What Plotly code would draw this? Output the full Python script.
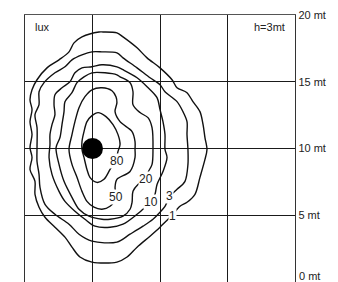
import plotly.graph_objects as go

# isolines (lux), coordinates in metres
levels = ["1", "3", "10", "20", "50", "80"]

x_1 = [5.78, 6.81, 7.26, 8.30, 9.04, 10.0, 10.89, 11.26, 12.0, 12.44, 12.96, 13.19, 13.33, 13.48, 13.33, 12.96,
       12.59, 12.0, 11.48, 10.89, 10.37, 10.0, 9.26, 8.30, 7.56, 6.81, 4.96, 4.07, 3.48, 2.96, 2.22, 1.48, 1.04,
       0.74, 0.74, 0.37, 0.52, 0.37, 0.52, 0.37, 0.52, 0.37, 0.52, 0.89, 1.63, 2.52, 3.26, 3.63, 4.22, 5.48]
y_1 = [18.73, 18.66, 18.36, 17.54, 16.79, 16.04, 15.15, 14.55, 14.18, 13.51, 12.76, 11.79, 10.82, 9.93, 9.18, 7.84,
       6.57, 5.97, 5.67, 5.0, 4.48, 4.10, 3.43, 2.61, 1.87, 1.49, 1.49, 1.87, 2.61, 3.36, 4.10, 4.85, 5.60,
       6.57, 7.54, 8.43, 9.33, 10.07, 11.04, 12.01, 12.91, 13.66, 14.40, 15.15, 16.04, 16.64, 17.24, 17.91, 18.36, 18.73]

x_3 = [4.96, 5.70, 6.81, 7.26, 8.30, 9.26, 10.0, 10.37, 11.26, 11.70, 12.0, 12.0, 12.07, 12.07, 11.85, 11.26, 10.74,
       10.37, 10.0, 9.48, 8.74, 7.78, 6.81, 4.96, 4.0, 3.26, 2.22, 1.48, 1.11, 1.04, 0.89, 0.89, 0.89, 0.74, 1.04,
       1.04, 1.41, 2.22, 2.96, 3.48, 4.22]
y_3 = [17.24, 17.24, 17.16, 16.79, 16.04, 15.30, 14.78, 14.25, 13.51, 12.76, 12.01, 11.04, 9.93, 8.81, 7.54, 6.94, 6.42,
       5.67, 5.22, 4.70, 4.18, 3.58, 2.99, 3.06, 3.58, 4.33, 5.07, 5.82, 7.09, 8.06, 9.03, 10.07, 11.57, 12.54, 13.28,
       14.25, 14.93, 15.67, 16.12, 16.64, 17.01]

x_10 = [4.96, 5.70, 6.81, 7.26, 8.30, 9.04, 9.78, 10.0, 10.22, 10.37, 10.37, 10.52, 10.22, 9.78, 9.63, 9.33, 8.74,
        8.30, 7.26, 6.30, 5.19, 4.44, 3.70, 2.96, 2.52, 2.0, 1.78, 1.85, 1.85, 2.0, 2.22, 2.15, 2.22, 2.74, 3.33,
        3.70, 4.22]
y_10 = [16.12, 16.27, 16.12, 15.90, 15.30, 14.63, 13.81, 12.91, 12.01, 11.04, 9.93, 9.33, 8.28, 7.31, 6.57, 5.97,
        5.45, 5.07, 4.33, 4.10, 4.18, 4.70, 5.30, 6.04, 6.79, 8.06, 9.33, 10.30, 11.04, 11.79, 12.54, 13.28, 14.03,
        14.55, 15.0, 15.67, 16.04]

x_20 = [4.96, 5.93, 6.81, 7.04, 7.78, 8.0, 8.0, 8.52, 9.11, 9.41, 9.48, 9.41, 9.11, 8.96, 8.37, 8.0, 7.93, 7.78,
        7.26, 6.30, 5.70, 4.74, 4.0, 3.48, 2.89, 2.52, 2.30, 2.59, 2.74, 2.89, 2.96, 3.48, 3.85, 4.37]
y_20 = [15.67, 15.67, 15.52, 15.37, 14.93, 14.25, 13.28, 12.69, 12.31, 11.57, 9.93, 8.81, 8.21, 7.69, 7.31, 6.79,
        5.97, 5.45, 4.93, 4.70, 4.70, 4.93, 5.45, 6.34, 7.54, 8.81, 10.07, 10.82, 11.79, 12.76, 13.51, 14.18, 14.93,
        15.37]

x_50 = [4.96, 5.70, 6.44, 6.74, 6.81, 6.67, 7.04, 7.93, 8.15, 8.15, 8.15, 7.78, 6.81, 6.67, 6.74, 6.30, 5.70, 5.11,
        4.59, 4.22, 3.85, 3.48, 3.26, 3.48, 3.70, 4.0, 4.44]
y_50 = [14.40, 14.55, 14.33, 13.88, 13.43, 12.76, 12.01, 11.27, 10.52, 9.93, 9.33, 8.28, 7.69, 7.09, 6.34, 5.67,
        5.45, 5.60, 6.04, 6.79, 7.84, 8.81, 9.93, 11.04, 12.01, 13.06, 13.88]

x_80 = [5.41, 6.0, 6.52, 6.89, 7.04, 6.89, 6.74, 6.30, 5.85, 5.33, 4.81, 4.59, 4.37, 4.22, 4.22, 4.37, 4.59, 4.96]
y_80 = [12.69, 12.39, 11.79, 11.04, 10.30, 9.78, 9.18, 8.43, 7.69, 7.46, 7.84, 8.43, 9.33, 9.93, 10.52, 11.27,
        12.01, 12.46]

label_x = [10.96, 10.67, 9.33, 8.96, 6.74, 6.81]
label_y = [4.93, 6.42, 5.97, 7.69, 6.34, 9.03]

lamp_x = [5.0]
lamp_y = [10.0]

tick_vals = [0, 5, 10, 15, 20]
tick_text = ["0 mt", "5 mt", "10 mt", "15 mt", "20 mt"]

lines_x = [x_1, x_3, x_10, x_20, x_50, x_80]
lines_y = [y_1, y_3, y_10, y_20, y_50, y_80]

FONT = "Liberation Sans Narrow, Arial Narrow, Liberation Sans, Arial, sans-serif"

fig = go.Figure()
for lx, ly in zip(lines_x, lines_y):
    fig.add_trace(go.Scatter(
        x=lx + [lx[0]], y=ly + [ly[0]], mode="lines",
        line=dict(color="#111", width=1.4, shape="spline", smoothing=0.9),
        hoverinfo="skip", showlegend=False))

fig.add_trace(go.Scatter(x=lamp_x, y=lamp_y, mode="markers",
                         marker=dict(color="black", size=21), showlegend=False))

for t, lx, ly in zip(levels, label_x, label_y):
    fig.add_annotation(x=lx, y=ly, text=t, showarrow=False,
                       font=dict(family=FONT, size=12, color="#222"),
                       bgcolor="white", borderpad=0)

fig.add_annotation(xref="paper", yref="paper", x=0.03, y=0.985, text="lux", showarrow=False,
                   xanchor="left", yanchor="top", font=dict(family=FONT, size=11, color="#222"))
fig.add_annotation(xref="paper", yref="paper", x=0.97, y=0.985, text="h=3mt", showarrow=False,
                   xanchor="right", yanchor="top", font=dict(family=FONT, size=11, color="#222"))

# bottom tick label sits just above the lower edge, as in the reference
fig.add_annotation(xref="paper", yref="y", x=1, y=tick_vals[0], text=tick_text[0], showarrow=False,
                   xanchor="left", yanchor="bottom", xshift=2, yshift=-2,
                   font=dict(family=FONT, size=11, color="#222"))

# the page body adds an 8px offset; size the figure so the plot area lands where the reference has it
fig.update_layout(
    width=330, height=274,
    margin=dict(l=17, r=43, t=7, b=0, autoexpand=False),
    paper_bgcolor="white", plot_bgcolor="white",
    xaxis=dict(range=[0, 20], tickvals=tick_vals, showticklabels=False, ticks="",
               showgrid=True, gridcolor="#1a1a1a", gridwidth=1.4, zeroline=False,
               showline=True, mirror=True, linecolor="#555", linewidth=1.2, automargin=False),
    yaxis=dict(range=[0, 20], tickvals=tick_vals[1:], ticktext=tick_text[1:], side="right", ticks="",
               showgrid=True, gridcolor="#1a1a1a", gridwidth=1.4, zeroline=False,
               showline=True, mirror=True, linecolor="#333", linewidth=1.4,
               ticklabeloverflow="allow", automargin=False,
               tickfont=dict(family=FONT, size=11, color="#222")),
)

fig.write_html("out.html")
